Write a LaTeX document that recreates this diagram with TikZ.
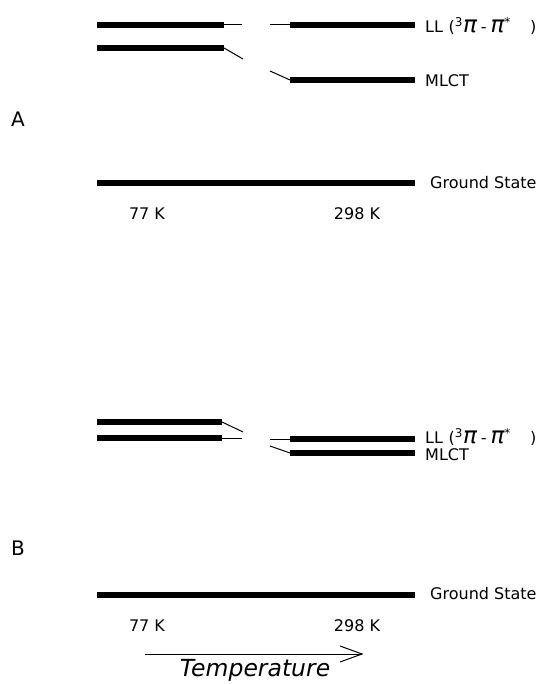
\documentclass[tikz,border=0pt]{standalone}
\usepackage{fontspec}
\setmainfont{DejaVu Sans}
\usetikzlibrary{calc}
% label for the ligand-localised level
\newcommand{\pip}{{\fontsize{23}{23}\selectfont\itshape π}}
\newcommand{\lllabel}{LL\hspace{0.35em}(\textsuperscript{\fontsize{12}{12}\selectfont 3}\pip\hspace{0.25em}-\hspace{0.25em}\pip\textsuperscript{\fontsize{12}{12}\selectfont *}\hspace{1.2em})}
\begin{document}
\begin{tikzpicture}[x=1pt,y=-1pt,
  level/.style={line width=6pt},
  link/.style={line width=1pt},
  lab/.style={anchor=west,inner sep=0pt,font=\fontsize{16}{18}\selectfont},
  tick/.style={anchor=center,inner sep=0pt,font=\fontsize{16}{18}\selectfont},
  panel/.style={anchor=center,inner sep=0pt,font=\fontsize{20}{22}\selectfont}]
\useasboundingbox (0,0) rectangle (540,684);

% ---------- panel A ----------
\coordinate (aLLl0) at (97,25);  \coordinate (aLLl1) at (224,25); \coordinate (aLLl2) at (242,25);
\coordinate (aLLr0) at (270,25); \coordinate (aLLr1) at (290,25); \coordinate (aLLr2) at (415,25);
\coordinate (aMLl0) at (97,48);  \coordinate (aMLl1) at (224,48); \coordinate (aMLl2) at (243,59);
\coordinate (aMLr0) at (270,71); \coordinate (aMLr1) at (290,80); \coordinate (aMLr2) at (415,80);
\coordinate (aGS0) at (97,183);  \coordinate (aGS1) at (415,183);

\draw[level] (aLLl0) -- (aLLl1);
\draw[link]  (aLLl1) -- (aLLl2);
\draw[link]  (aLLr0) -- (aLLr1);
\draw[level] (aLLr1) -- (aLLr2);
\draw[level] (aMLl0) -- (aMLl1);
\draw[link]  (aMLl1) -- (aMLl2);
\draw[link]  (aMLr0) -- (aMLr1);
\draw[level] (aMLr1) -- (aMLr2);
\draw[level] (aGS0) -- (aGS1);

\node[lab] (aLL) at (425,26) {\lllabel};
\node[lab] (aML) at (425,81) {MLCT};
\node[lab] (aGS) at (430,183) {Ground State};
\node[panel] (aP) at (18,119) {A};
\node[tick] (a77) at (147,214) {77 K};
\node[tick] (a298) at (357,214) {298 K};

% ---------- panel B ----------
\coordinate (bUl0) at (97,422);  \coordinate (bUl1) at (222,422); \coordinate (bUl2) at (243,432);
\coordinate (bLl0) at (97,438);  \coordinate (bLl1) at (222,438); \coordinate (bLl2) at (242,438);
\coordinate (bLLr0) at (270,439); \coordinate (bLLr1) at (290,439); \coordinate (bLLr2) at (415,439);
\coordinate (bMLr0) at (270,446); \coordinate (bMLr1) at (290,453); \coordinate (bMLr2) at (415,453);
\coordinate (bGS0) at (97,595);  \coordinate (bGS1) at (415,595);

\draw[level] (bUl0) -- (bUl1);
\draw[link]  (bUl1) -- (bUl2);
\draw[level] (bLl0) -- (bLl1);
\draw[link]  (bLl1) -- (bLl2);
\draw[link]  (bLLr0) -- (bLLr1);
\draw[level] (bLLr1) -- (bLLr2);
\draw[link]  (bMLr0) -- (bMLr1);
\draw[level] (bMLr1) -- (bMLr2);
\draw[level] (bGS0) -- (bGS1);

\node[lab] (bLL) at (425,437) {\lllabel};
\node[lab] (bML) at (425,455) {MLCT};
\node[lab] (bGS) at (430,594) {Ground State};
\node[panel] (bP) at (18,548) {B};
\node[tick] (b77) at (147,626) {77 K};
\node[tick] (b298) at (357,626) {298 K};

% temperature axis
\coordinate (t0) at (145,654);
\coordinate (t1) at (362,654);
\draw[line width=1pt] (t0) -- (t1);
\draw[line width=1pt] ($(t1)+(-22,-8)$) -- (t1) -- ($(t1)+(-22,8)$);
\node[anchor=center,inner sep=0pt,font=\fontsize{23.5}{25}\selectfont\itshape] (temp) at (255,670) {Temperature};
\end{tikzpicture}
\end{document}
